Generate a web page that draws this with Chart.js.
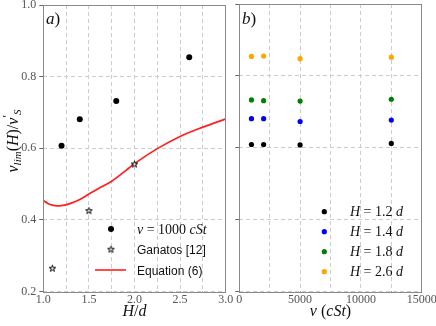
<!DOCTYPE html>
<html><head><meta charset="utf-8">
<script src="https://cdn.jsdelivr.net/npm/chart.js@4"></script>
<style>html,body{margin:0;padding:0;background:#fff;overflow:hidden}
#wrap{position:relative;width:436px;height:326px}
canvas{position:absolute;left:0;top:0}</style></head><body>
<div id="wrap"><canvas id="ca" width="436" height="326"></canvas><canvas id="cb" width="436" height="326"></canvas></div>
<script>
// ---- data (panel a) ----
const hd = [1.2, 1.4, 1.8, 2.6];
const vA = [0.607, 0.681, 0.732, 0.854];
const ganatosH = [1.1, 1.5, 2.0];
const ganatosV = [0.265, 0.426, 0.556];
const eqH = [1.0, 1.05, 1.1, 1.15, 1.2, 1.25, 1.3, 1.4, 1.5, 1.6, 1.75, 1.9, 2.0, 2.25, 2.5, 2.75, 3.0];
const eqV = [0.454, 0.446, 0.441, 0.439, 0.440, 0.442, 0.446, 0.457, 0.472, 0.487, 0.508, 0.537, 0.557, 0.599, 0.633, 0.659, 0.682];
// ---- data (panel b) ----
const nu = [1000, 2000, 5000, 12500];
const v12 = [0.609, 0.609, 0.608, 0.612];
const v14 = [0.681, 0.681, 0.673, 0.677];
const v18 = [0.733, 0.731, 0.730, 0.735];
const v26 = [0.854, 0.855, 0.848, 0.852];
const seriesB = [
  {label: '1.2', v: v12, color: '#000000'},
  {label: '1.4', v: v14, color: '#0000ff'},
  {label: '1.8', v: v18, color: '#008000'},
  {label: '2.6', v: v26, color: '#ffa500'}
];
const yTicks = [0.2, 0.4, 0.6, 0.8, 1.0];

const pts = (xs, ys) => xs.map((x, i) => ({x, y: ys[i]}));
const SERIF = '"Liberation Serif", "DejaVu Serif", serif';
const SANS = '"Liberation Sans", "DejaVu Sans", sans-serif';
Chart.defaults.font.family = SERIF;
Chart.defaults.color = '#555';

const FRAME = '#8a8a8a', GRID = '#cccccc';

function starImg(){
  const c = document.createElement('canvas'); c.width = 9; c.height = 9;
  const g = c.getContext('2d'); g.beginPath();
  for (let i = 0; i < 10; i++) {
    const r = i % 2 ? 1.3 : 3.4; const a = -Math.PI/2 + i*Math.PI/5;
    g.lineTo(4.5 + r*Math.cos(a), 4.8 + r*Math.sin(a));
  }
  g.closePath(); g.fillStyle = '#fff'; g.fill();
  g.lineWidth = 1; g.strokeStyle = '#000'; g.stroke();
  return c;
}
const STAR = starImg();

function runsWidth(ctx, runs){
  let w = 0; for (const r of runs){ ctx.font = r.f; w += ctx.measureText(r.t).width; } return w;
}
function drawRuns(ctx, x, y, runs, align){
  let cx = x;
  if (align === 'center') cx = x - runsWidth(ctx, runs)/2;
  ctx.textBaseline = 'alphabetic'; ctx.textAlign = 'left';
  for (const r of runs){ ctx.font = r.f; ctx.fillText(r.t, cx, y + (r.dy || 0)); cx += ctx.measureText(r.t).width; }
}
const IT = s => `italic ${s}px ${SERIF}`;
const RM = s => `${s}px ${SERIF}`;

function fixAxis(w, h){
  return function(scale){
    if (w !== null) scale.width = w;
    if (h !== null) scale.height = h;
    scale.paddingLeft = 0; scale.paddingRight = 0; scale.paddingTop = 0; scale.paddingBottom = 0;
  };
}

function frame(chart){
  const a = chart.chartArea, ctx = chart.ctx;
  ctx.save(); ctx.strokeStyle = FRAME; ctx.lineWidth = 1;
  ctx.strokeRect(Math.round(a.left)+0.5, Math.round(a.top)+0.5, Math.round(a.right-a.left), Math.round(a.bottom-a.top));
  ctx.restore();
}

const commonY = (w) => ({
  type: 'linear', min: 0.2, max: 1.0,
  afterBuildTicks: s => { s.ticks = yTicks.map(v => ({value: v})); },
  grid: {color: GRID, tickColor: '#666', tickLength: 4, lineWidth: 1},
  border: {display: false, dash: [4, 3]},
  afterFit: fixAxis(w, null)
});

// ---------- Panel a ----------
const pluginA = {
  id: 'deco',
  afterDraw(chart){
    const ctx = chart.ctx, a = chart.chartArea;
    frame(chart);
    ctx.save(); ctx.fillStyle = '#111';
    drawRuns(ctx, 46, 24, [{t:'a', f:IT(17)}, {t:')', f:RM(17)}]);
    // x title
    drawRuns(ctx, (a.left+a.right)/2, 316, [{t:'H', f:IT(16)}, {t:'/', f:RM(16)}, {t:'d', f:IT(16)}], 'center');
    // y title
    ctx.save(); ctx.translate(18, 141); ctx.rotate(-Math.PI/2);
    drawRuns(ctx, 0, 0, [
      {t:'v', f:IT(16)}, {t:'lim', f:IT(11), dy:3}, {t:'(', f:RM(16)}, {t:'H', f:IT(16)}, {t:')', f:RM(16)},
      {t:'/', f:RM(16)}, {t:'v', f:IT(16)}, {t:'′', f:RM(12), dy:-7}, {t:'S', f:IT(11), dy:3}
    ], 'center');
    ctx.restore();
    // legend
    const lx = 111, tx = 137;
    ctx.fillStyle = '#000';
    ctx.beginPath(); ctx.arc(lx, 229, 3, 0, Math.PI*2); ctx.fill();
    ctx.drawImage(STAR, lx-4.5, 249.5-4.8);
    ctx.strokeStyle = '#ff2020'; ctx.lineWidth = 1.6;
    ctx.beginPath(); ctx.moveTo(95, 270); ctx.lineTo(126, 270); ctx.stroke();
    ctx.fillStyle = '#111';
    drawRuns(ctx, tx, 233.5, [{t:'ν', f:IT(14)}, {t:' = 1000 ', f:RM(14)}, {t:'cSt', f:IT(14)}]);
    ctx.font = `12px ${SANS}`; ctx.fillText('Ganatos [12]', tx, 254);
    ctx.fillText('Equation (6)', tx, 274.5);
    ctx.restore();
  }
};

new Chart(document.getElementById('ca'), {
  type: 'scatter',
  data: {datasets: [
    {type: 'line', data: pts(eqH, eqV), borderColor: '#ff2020', borderWidth: 1.7, pointRadius: 0, cubicInterpolationMode: 'monotone', fill: false, order: 2},
    {data: pts(ganatosH, ganatosV), pointStyle: STAR, pointRadius: 4, order: 1},
    {data: pts(hd, vA), backgroundColor: '#000', borderColor: '#000', pointRadius: 3, borderWidth: 0, order: 0}
  ]},
  options: {
    responsive: false, animation: false, devicePixelRatio: 1,
    layout: {padding: {left: 0, right: 210.3, top: 4, bottom: 0}},
    plugins: {legend: {display: false}, tooltip: {enabled: false}},
    scales: {
      x: {type: 'linear', min: 1.0, max: 3.0,
        ticks: {stepSize: 0.25, padding: 1, font: {size: 12}, maxRotation: 0, autoSkip: false,
          callback: v => (Math.abs(v*2 - Math.round(v*2)) < 1e-6 ? v.toFixed(1) : '')},
        grid: {color: GRID, tickColor: '#666', tickLength: 0, lineWidth: 1},
        border: {display: false, dash: [4, 3]},
        afterFit: fixAxis(null, 34.5)},
      y: Object.assign(commonY(43.3), {ticks: {padding: 3, font: {size: 12}, callback: v => v.toFixed(1)}})
    }
  },
  plugins: [pluginA]
});

// ---------- Panel b ----------
const pluginB = {
  id: 'decoB',
  afterDraw(chart){
    const ctx = chart.ctx, a = chart.chartArea;
    frame(chart);
    ctx.save(); ctx.fillStyle = '#111';
    drawRuns(ctx, 242, 24, [{t:'b', f:IT(17)}, {t:')', f:RM(17)}]);
    drawRuns(ctx, (a.left+a.right)/2, 316, [{t:'ν', f:IT(16)}, {t:' (', f:RM(16)}, {t:'cSt', f:IT(16)}, {t:')', f:RM(16)}], 'center');
    const rows = [211.7, 231.7, 251.7, 271.7];
    seriesB.forEach((s, i) => {
      ctx.fillStyle = s.color; ctx.beginPath(); ctx.arc(324.3, rows[i], 2.6, 0, Math.PI*2); ctx.fill();
      ctx.fillStyle = '#111';
      drawRuns(ctx, 350, rows[i] + 4.5, [{t:'H', f:IT(14)}, {t:' = ' + s.label + ' ', f:RM(14)}, {t:'d', f:IT(14)}]);
    });
    ctx.restore();
  }
};

new Chart(document.getElementById('cb'), {
  type: 'scatter',
  data: {datasets: seriesB.map(s => ({data: pts(nu, s.v), backgroundColor: s.color, borderColor: s.color, pointRadius: 2.6, borderWidth: 0}))},
  options: {
    responsive: false, animation: false, devicePixelRatio: 1,
    layout: {padding: {left: 229.3, right: 14.3, top: 4, bottom: 0}},
    plugins: {legend: {display: false}, tooltip: {enabled: false}},
    scales: {
      x: {type: 'linear', min: 0, max: 15000,
        ticks: {stepSize: 2500, padding: 1, font: {size: 12}, maxRotation: 0, autoSkip: false,
          callback: v => (v % 5000 === 0 ? String(v) : '')},
        grid: {color: GRID, tickColor: '#666', tickLength: 0, lineWidth: 1},
        border: {display: false, dash: [4, 3]},
        afterFit: fixAxis(null, 34.5)},
      y: Object.assign(commonY(10), {ticks: {display: false}})
    }
  },
  plugins: [pluginB]
});
</script>
</body></html>
